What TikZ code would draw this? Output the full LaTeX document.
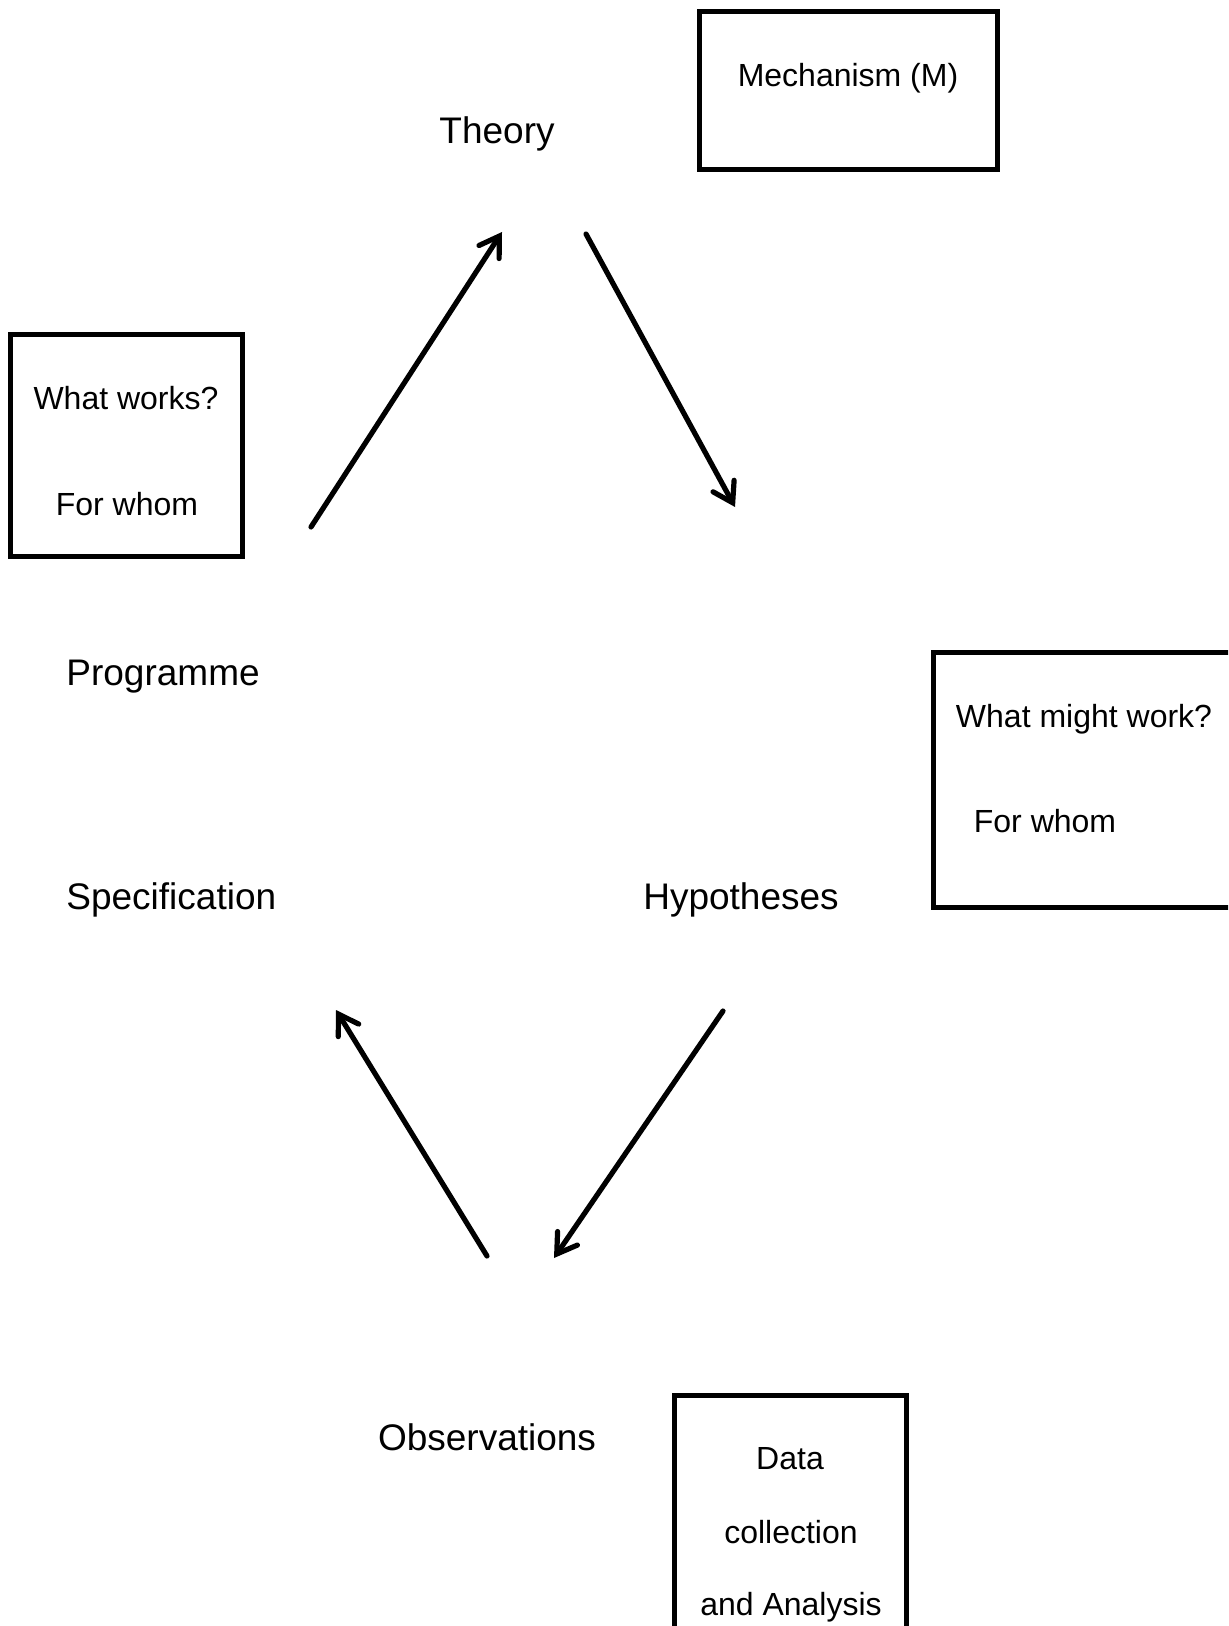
\documentclass[tikz,border=0pt]{standalone}
\usepackage{fontspec}
\setmainfont{Liberation Sans}
\usetikzlibrary{arrows.meta}
\tikzset{
  bigtext/.style={font=\fontsize{18.5}{22}\selectfont, inner sep=0pt, anchor=base},
  smalltext/.style={font=\fontsize{16}{19}\selectfont, inner sep=0pt, anchor=base},
  framebox/.style={draw=black, line width=2.5pt},
  flow/.style={line width=2.6pt, line cap=round, -{Straight Barb[length=9.5pt,width=12pt,line cap=round]}}
}
\begin{document}
\begin{tikzpicture}[x=0.5pt,y=-0.5pt]
\clip (0,0) rectangle (1228,1626);
\fill[white] (0,0) rectangle (1228,1626);
% boxes
\draw[framebox] (699,12) rectangle (997,169.5);
\draw[framebox] (10.5,335) rectangle (242.5,556);
\draw[framebox] (933,652) rectangle (1240,907);
\draw[framebox] (674.5,1395.5) rectangle (906.5,1640);
% box texts
\node[smalltext] (mech) at (848,87) {Mechanism (M)};
\node[smalltext] (ww) at (126,409) {What works?};
\node[smalltext] (fw1) at (127,515) {For whom};
\node[smalltext] (wmw) at (1084,727) {What might work?};
\node[smalltext] (fw2) at (1045,832) {For whom};
\node[smalltext] (data) at (790,1469) {Data};
\node[smalltext] (coll) at (791,1543) {collection};
\node[smalltext] (ana) at (791,1615) {and Analysis};
% main labels
\node[bigtext] (theory) at (497,144) {Theory};
\node[bigtext, anchor=base west] (prog) at (66,685) {Programme};
\node[bigtext, anchor=base west] (spec) at (66,909) {Specification};
\node[bigtext] (hyp) at (741,909) {Hypotheses};
\node[bigtext] (obs) at (487,1450) {Observations};
% arrow end points
\coordinate (a1s) at (311,527);
\coordinate (a1e) at (502,232);
\coordinate (a2s) at (586,234);
\coordinate (a2e) at (735,507);
\coordinate (a3s) at (723,1011);
\coordinate (a3e) at (554,1258);
\coordinate (a4s) at (487,1256);
\coordinate (a4e) at (336,1010);
\draw[flow] (a1s) -- (a1e);
\draw[flow] (a2s) -- (a2e);
\draw[flow] (a3s) -- (a3e);
\draw[flow] (a4s) -- (a4e);
\end{tikzpicture}
\end{document}
